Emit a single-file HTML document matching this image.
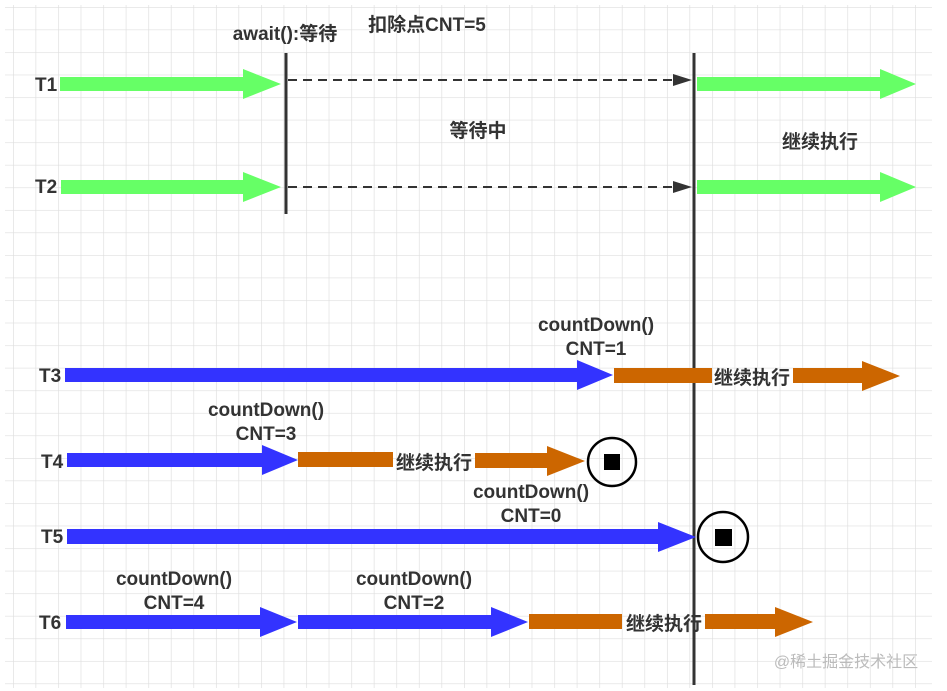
<!DOCTYPE html>
<html><head><meta charset="utf-8"><style>
html,body{margin:0;padding:0;background:#fff;}
svg{display:block;}
text{font-family:"Liberation Sans","Noto Sans CJK SC",sans-serif;fill:#333;font-size:19px;font-weight:bold;}
</style></head><body>
<svg width="947" height="691" viewBox="0 0 947 691" xmlns="http://www.w3.org/2000/svg">
<defs>
<pattern id="g" x="13" y="7" width="22.55" height="22.55" patternUnits="userSpaceOnUse">
<path d="M0 0V22.55M0 0H22.55" stroke="#dedede" stroke-width="1.3" fill="none"/>
</pattern>
</defs>
<rect x="5" y="5" width="927" height="683" fill="url(#g)"/>

<line x1="286" y1="53" x2="286" y2="214" stroke="#333" stroke-width="3"/>
<line x1="694" y1="53" x2="694" y2="685" stroke="#333" stroke-width="3"/>

<polygon points="60,77 243,77 243,69 281,84 243,99 243,91 60,91" fill="#66ff66"/>
<polygon points="697,77 880,77 880,69 916,84 880,99 880,91 697,91" fill="#66ff66"/>
<polygon points="61,180 243,180 243,172 281,187 243,202 243,194 61,194" fill="#66ff66"/>
<polygon points="697,180 880,180 880,172 916,187 880,202 880,194 697,194" fill="#66ff66"/>
<line x1="288" y1="80" x2="675" y2="80" stroke="#333" stroke-width="2" stroke-dasharray="9,6"/>
<polygon points="673,74 692,80 673,86" fill="#333"/>
<line x1="288" y1="187" x2="675" y2="187" stroke="#333" stroke-width="2" stroke-dasharray="9,6"/>
<polygon points="673,181 692,187 673,193" fill="#333"/>

<polygon points="65,368 577,368 577,360 613,375 577,390 577,382 65,382" fill="#3333ff"/>
<polygon points="614,368 712,368 712,383 614,383" fill="#cc6600"/>
<polygon points="793,368 862,368 862,361 900,376 862,391 862,383 793,383" fill="#cc6600"/>
<polygon points="67,453 262,453 262,445 298,460 262,475 262,467 67,467" fill="#3333ff"/>
<polygon points="298,452 393,452 393,467 298,467" fill="#cc6600"/>
<polygon points="475,453 547,453 547,446 585,461 547,476 547,468 475,468" fill="#cc6600"/>
<circle cx="612" cy="462" r="24" fill="none" stroke="#000" stroke-width="2.5"/>
<rect x="604" y="454" width="16" height="16" fill="#000"/>
<polygon points="67,529 658,529 658,522 696,537 658,552 658,544 67,544" fill="#3333ff"/>
<circle cx="723" cy="537" r="25" fill="none" stroke="#000" stroke-width="2.5"/>
<rect x="715" y="529" width="17" height="17" fill="#000"/>
<polygon points="66,615 260,615 260,607 297,622 260,637 260,629 66,629" fill="#3333ff"/>
<polygon points="298,615 491,615 491,607 528,622 491,637 491,629 298,629" fill="#3333ff"/>
<polygon points="529,614 622,614 622,629 529,629" fill="#cc6600"/>
<polygon points="705,614 775,614 775,607 813,622 775,637 775,629 705,629" fill="#cc6600"/>

<text x="35" y="91">T1</text>
<text x="35" y="193">T2</text>
<text x="39" y="382">T3</text>
<text x="41" y="468">T4</text>
<text x="41" y="543">T5</text>
<text x="39" y="629">T6</text>

<text x="285" y="40" text-anchor="middle">await():等待</text>
<text x="427" y="31" text-anchor="middle">扣除点CNT=5</text>
<text x="478" y="137" text-anchor="middle">等待中</text>
<text x="820" y="148" text-anchor="middle">继续执行</text>

<text x="596" y="331" text-anchor="middle">countDown()</text>
<text x="596" y="355" text-anchor="middle">CNT=1</text>
<text x="752" y="384" text-anchor="middle">继续执行</text>

<text x="266" y="416" text-anchor="middle">countDown()</text>
<text x="266" y="440" text-anchor="middle">CNT=3</text>
<text x="434" y="469" text-anchor="middle">继续执行</text>

<text x="531" y="498" text-anchor="middle">countDown()</text>
<text x="531" y="522" text-anchor="middle">CNT=0</text>

<text x="174" y="585" text-anchor="middle">countDown()</text>
<text x="174" y="609" text-anchor="middle">CNT=4</text>
<text x="414" y="585" text-anchor="middle">countDown()</text>
<text x="414" y="609" text-anchor="middle">CNT=2</text>
<text x="664" y="630" text-anchor="middle">继续执行</text>

<text x="846" y="667" text-anchor="middle" style="fill:#bbb;font-size:16px;font-weight:normal">@稀土掘金技术社区</text>
</svg>
</body></html>
